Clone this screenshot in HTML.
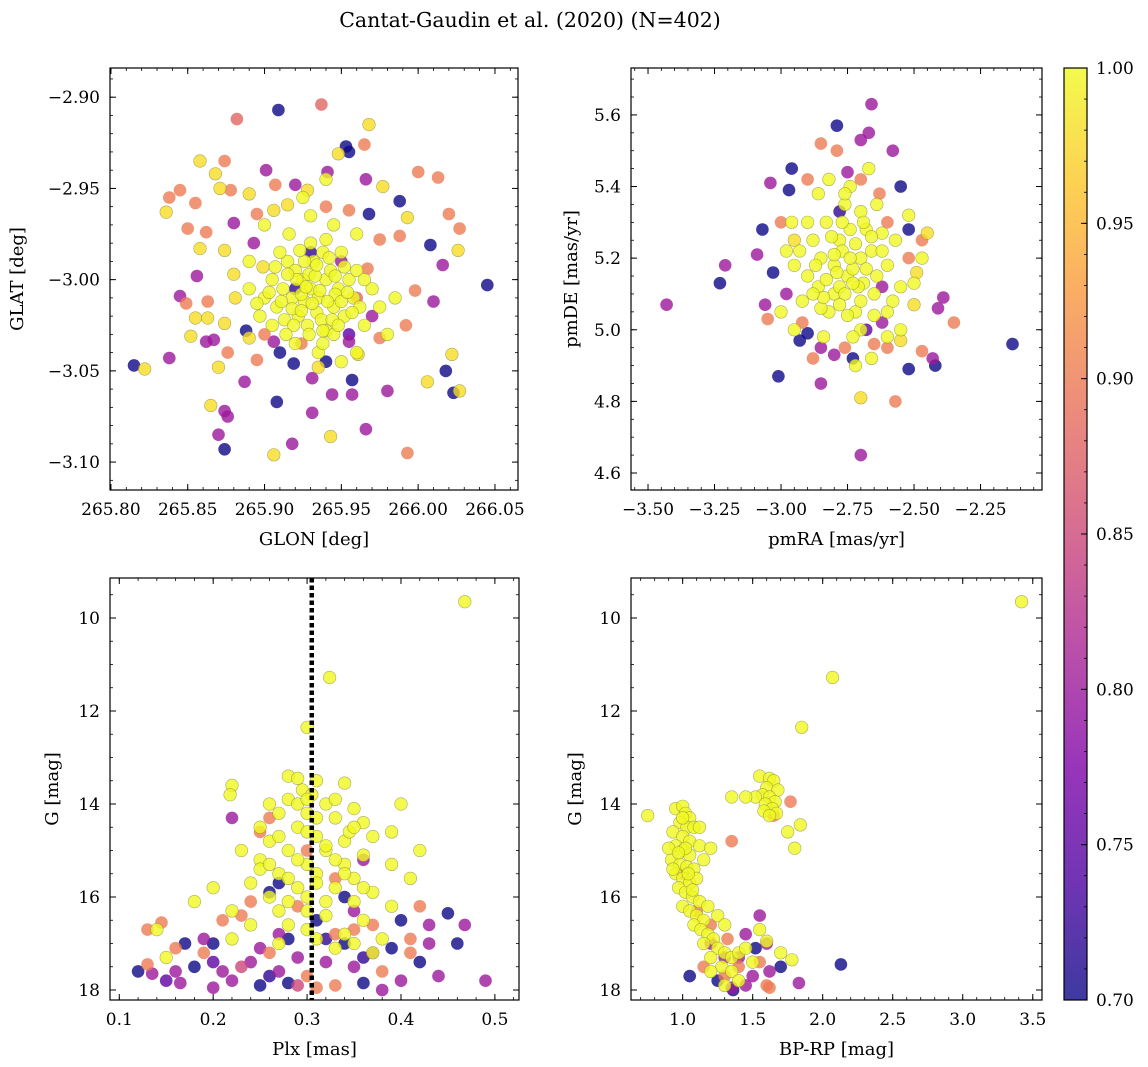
<!DOCTYPE html>
<html><head><meta charset="utf-8">
<style>
html,body{margin:0;padding:0;background:#fff;}
svg{display:block;font-family:"DejaVu Serif","Liberation Serif",serif;}
</style></head>
<body>
<svg id="fig" width="1148" height="1067" viewBox="0 0 1148 1067" xmlns="http://www.w3.org/2000/svg">
<text x="530" y="27" font-size="20.5" text-anchor="middle">Cantat-Gaudin et al. (2020) (N=402)</text>
<defs>
<linearGradient id="plasma" x1="0" y1="1" x2="0" y2="0">
<stop offset="0" stop-color="#0d0887"/><stop offset="0.125" stop-color="#4c02a1"/><stop offset="0.25" stop-color="#7e03a8"/><stop offset="0.375" stop-color="#a92395"/><stop offset="0.5" stop-color="#cc4778"/><stop offset="0.625" stop-color="#e66c5c"/><stop offset="0.75" stop-color="#f89540"/><stop offset="0.875" stop-color="#fdc527"/><stop offset="1" stop-color="#f0f921"/>
</linearGradient>
</defs>
<g id="layer"></g>
</svg>
<script>
// Panel 1: GLON, GLAT, membership probability
const skyPoints = [
[265.909,-2.907,0.7],[265.937,-2.904,0.88],[265.882,-2.912,0.88],[265.968,-2.915,0.98],[265.965,-2.926,0.9],[265.953,-2.927,0.7],[265.955,-2.93,0.7],[265.948,-2.931,0.98],[265.858,-2.935,0.98],[265.874,-2.935,0.9],[265.901,-2.940,0.8],[265.868,-2.942,0.98],[265.941,-2.941,0.8],[265.845,-2.951,0.9],[265.838,-2.955,0.9],[265.871,-2.950,0.98],[265.878,-2.951,0.9],[265.89,-2.953,0.98],[265.907,-2.948,0.9],[265.92,-2.948,0.8],[265.928,-2.951,0.98],[265.966,-2.945,0.8],[265.977,-2.949,0.98],[266.0,-2.941,0.9],[266.013,-2.944,0.9],[265.988,-2.957,0.7],[265.836,-2.963,0.98],[265.855,-2.958,0.9],[265.85,-2.972,0.9],[265.862,-2.974,0.9],[265.88,-2.969,0.8],[265.895,-2.964,0.9],[265.906,-2.962,0.98],[265.915,-2.959,0.98],[265.94,-2.96,0.9],[265.955,-2.962,0.9],[265.968,-2.964,0.7],[265.993,-2.966,0.98],[266.02,-2.964,0.9],[266.027,-2.972,0.9],[265.975,-2.978,0.9],[265.988,-2.976,0.9],[266.008,-2.981,0.7],[266.026,-2.984,0.98],[265.858,-2.983,0.98],[265.874,-2.984,0.98],[265.893,-2.980,0.8],[265.856,-2.998,0.8],[265.88,-2.997,0.98],[265.899,-2.993,0.98],[265.967,-2.994,0.9],[265.95,-2.990,0.8],[266.016,-2.992,0.8],[266.045,-3.003,0.7],[265.845,-3.009,0.8],[265.849,-3.013,0.9],[265.863,-3.012,0.9],[265.881,-3.01,0.98],[265.998,-3.006,0.9],[266.01,-3.012,0.8],[265.855,-3.021,0.98],[265.863,-3.021,0.98],[265.874,-3.024,0.98],[265.852,-3.031,0.98],[265.862,-3.034,0.8],[265.867,-3.033,0.8],[265.888,-3.028,0.7],[265.89,-3.032,0.98],[265.876,-3.040,0.9],[265.906,-3.034,0.8],[265.924,-3.035,0.9],[265.955,-3.034,0.8],[265.975,-3.032,0.9],[265.992,-3.025,0.9],[265.838,-3.043,0.8],[265.815,-3.047,0.7],[265.822,-3.049,0.98],[265.87,-3.048,0.98],[265.895,-3.044,0.9],[265.919,-3.046,0.7],[265.935,-3.048,0.98],[265.961,-3.041,0.98],[266.022,-3.041,0.98],[266.018,-3.05,0.7],[266.006,-3.056,0.98],[265.887,-3.056,0.8],[265.931,-3.054,0.8],[265.957,-3.055,0.7],[265.957,-3.063,0.8],[265.944,-3.063,0.8],[265.98,-3.061,0.8],[266.023,-3.062,0.7],[266.027,-3.061,0.98],[265.865,-3.069,0.98],[265.874,-3.072,0.8],[265.908,-3.067,0.7],[265.931,-3.073,0.8],[265.876,-3.075,0.8],[265.87,-3.085,0.8],[265.966,-3.082,0.8],[265.943,-3.086,0.98],[265.874,-3.093,0.7],[265.918,-3.090,0.8],[265.906,-3.096,0.98],[265.993,-3.095,0.9],
[265.91,-3.04,0.7],[265.955,-3.03,0.75],[265.97,-3.02,0.8],[265.92,-3.005,0.72],[265.94,-3.045,0.7],[265.93,-2.985,0.72],[265.9,-3.03,0.9],[265.96,-3.01,0.88],
[265.915,-2.99,1],[265.92,-2.995,1],[265.925,-3.0,1],[265.93,-3.005,1],[265.935,-3.01,1],[265.94,-3.0,1],[265.945,-3.015,1],[265.918,-3.01,1],[265.922,-3.02,1],[265.928,-3.025,1],[265.932,-2.99,1],[265.938,-2.985,1],[265.943,-2.995,1],[265.948,-3.005,1],[265.952,-3.02,1],[265.912,-3.005,1],[265.908,-3.015,1],[265.905,-3.0,1],[265.926,-3.012,1],[265.934,-3.018,1],[265.94,-3.028,1],[265.955,-3.0,1],[265.958,-3.01,1],[265.962,-3.015,1],[265.9,-3.01,1],[265.897,-3.02,1],[265.91,-2.985,1],[265.916,-2.975,1],[265.93,-2.98,1],[265.95,-2.985,1],[265.965,-3.025,1],[265.97,-3.005,1],[265.975,-3.015,1],[265.92,-3.035,1],[265.935,-3.04,1],[265.945,-3.03,1],[265.95,-3.045,1],[265.905,-3.025,1],[265.93,-2.965,1],[265.945,-2.97,1],[265.96,-2.975,1],[265.925,-2.955,1],[265.94,-2.945,1],[265.9,-2.97,1],[265.89,-2.99,1],[265.96,-3.04,1],[265.98,-3.03,1],[265.924,-3.008,1],[265.937,-3.022,1],[265.929,-2.997,1],[265.946,-3.008,1],[265.913,-3.022,1],[265.952,-2.993,1],[265.985,-3.01,1],[265.89,-3.005,1],[265.938,-3.035,1],
[265.921,-3.0,1],[265.927,-3.004,1],[265.933,-2.998,1],[265.936,-3.006,1],[265.918,-3.016,1],[265.924,-3.017,1],[265.931,-3.013,1],[265.941,-3.012,1],[265.944,-3.022,1],[265.95,-3.012,1],[265.915,-2.997,1],[265.911,-3.012,1],[265.929,-3.03,1],[265.934,-2.992,1],[265.942,-2.988,1],[265.946,-2.998,1],[265.954,-3.007,1],[265.903,-3.007,1],[265.926,-2.99,1],[265.938,-3.028,1],[265.919,-3.025,1],[265.948,-3.025,1],[265.957,-3.018,1],[265.907,-2.993,1],[265.923,-2.984,1],[265.94,-2.978,1],[265.96,-2.995,1],[265.965,-3.0,1],[265.895,-3.013,1],[265.914,-3.03,1]
];
// Panel 2: pmRA, pmDE, probability
const pmPoints = [
[-3.43,5.07,0.8],[-3.23,5.13,0.7],[-3.21,5.18,0.8],[-2.13,4.96,0.7],[-2.35,5.02,0.9],[-2.39,5.09,0.8],[-2.41,5.06,0.8],[-2.43,4.92,0.8],[-2.42,4.9,0.7],[-2.7,4.65,0.8],[-2.7,4.81,0.98],[-2.57,4.8,0.9],[-2.85,4.85,0.8],[-3.01,4.87,0.7],[-2.79,5.57,0.7],[-2.66,5.63,0.8],[-2.67,5.55,0.8],[-2.7,5.53,0.8],[-2.79,5.5,0.9],[-2.85,5.52,0.9],[-2.58,5.5,0.8],[-2.96,5.45,0.7],[-3.04,5.41,0.8],[-2.97,5.39,0.7],[-3.07,5.28,0.7],[-3.09,5.21,0.8],[-3.03,5.16,0.7],[-3.06,5.07,0.8],[-3.05,5.03,0.9],[-2.93,4.97,0.7],[-2.9,4.99,0.7],[-2.52,5.28,0.7],[-2.45,5.27,0.98],[-2.47,5.25,0.9],[-2.55,5.4,0.7],[-2.52,5.2,0.9],[-2.49,5.16,0.98],[-2.5,5.07,0.98],[-2.55,4.97,0.98],[-2.6,4.95,0.9],[-2.47,4.94,0.9],[-2.52,4.89,0.7],[-2.6,5.3,0.9],[-2.63,5.38,0.9],[-2.7,5.42,0.9],[-2.75,5.44,0.8],[-2.9,5.42,0.9],[-3.0,5.3,0.9],[-2.95,5.25,0.98],[-2.62,5.02,0.8],[-2.73,4.92,0.7],[-2.8,4.93,0.8],[-2.85,4.95,0.8],[-2.88,4.92,0.9],[-2.76,4.95,0.9],[-2.65,4.96,0.9],[-2.62,5.12,0.8],[-2.98,5.1,0.8],[-2.92,5.02,0.9],[-2.68,5.0,0.75],[-2.78,5.33,0.72],
[-2.75,5.15,1],[-2.8,5.1,1],[-2.7,5.2,1],[-2.85,5.2,1],[-2.65,5.1,1],[-2.78,5.25,1],[-2.72,5.05,1],[-2.9,5.15,1],[-2.6,5.18,1],[-2.83,5.3,1],[-2.68,5.28,1],[-2.76,5.35,1],[-2.64,5.35,1],[-2.88,5.25,1],[-2.95,5.18,1],[-2.92,5.08,1],[-2.82,5.05,1],[-2.7,5.0,1],[-2.6,5.05,1],[-2.55,5.12,1],[-2.57,5.25,1],[-2.74,5.4,1],[-2.86,5.38,1],[-2.96,5.3,1],[-2.98,5.22,1],[-2.84,4.98,1],[-2.66,4.92,1],[-2.72,4.9,1],[-2.55,5.0,1],[-2.5,5.13,1],[-2.78,5.12,1],[-2.73,5.17,1],[-2.69,5.13,1],[-2.8,5.18,1],[-2.77,5.22,1],[-2.66,5.22,1],[-2.86,5.12,1],[-2.74,5.28,1],[-2.62,5.27,1],[-2.9,5.3,1],[-3.0,5.05,1],[-2.95,5.0,1],[-2.6,4.98,1],[-2.47,5.2,1],[-2.52,5.32,1],[-2.7,5.33,1],[-2.82,5.42,1],[-2.67,5.45,1],[-2.73,4.98,1],[-2.85,5.06,1],
[-2.76,5.1,1],[-2.71,5.12,1],[-2.74,5.2,1],[-2.79,5.16,1],[-2.83,5.14,1],[-2.68,5.17,1],[-2.72,5.24,1],[-2.81,5.26,1],[-2.77,5.3,1],[-2.7,5.08,1],[-2.64,5.15,1],[-2.87,5.18,1],[-2.75,5.04,1],[-2.8,5.21,1],[-2.66,5.26,1],[-2.73,5.13,1],[-2.78,5.07,1],[-2.69,5.3,1],[-2.84,5.09,1],[-2.62,5.22,1],[-2.88,5.1,1],[-2.93,5.22,1],[-2.58,5.08,1],[-2.76,5.38,1],[-2.65,5.04,1]
];
// Panel 3: parallax, G magnitude, probability
const plxPoints = [
[0.12,17.6,0.7],[0.13,17.45,0.9],[0.135,17.65,0.8],[0.13,16.7,0.9],[0.145,16.55,0.9],[0.16,17.6,0.8],[0.165,17.85,0.8],[0.17,17.0,0.7],[0.18,17.5,0.7],[0.19,17.2,0.9],[0.2,17.0,0.7],[0.21,17.6,0.8],[0.2,17.95,0.8],[0.22,17.8,0.8],[0.23,16.4,0.9],[0.24,17.4,0.8],[0.25,17.9,0.7],[0.26,17.2,0.9],[0.27,17.6,0.8],[0.28,17.85,0.7],[0.29,17.3,0.8],[0.3,17.7,0.9],[0.31,16.5,0.7],[0.32,17.4,0.8],[0.33,17.9,0.9],[0.34,17.0,0.7],[0.35,17.5,0.8],[0.36,17.85,0.7],[0.37,17.2,0.8],[0.38,17.6,0.9],[0.39,17.1,0.7],[0.4,17.8,0.8],[0.41,16.9,0.9],[0.42,17.4,0.7],[0.43,17.0,0.8],[0.44,17.7,0.8],[0.45,16.35,0.7],[0.46,17.0,0.7],[0.468,16.6,0.8],[0.49,17.8,0.8],[0.42,16.2,0.9],[0.4,16.5,0.7],[0.35,16.3,0.8],[0.27,15.7,0.7],[0.22,14.3,0.8],[0.26,15.9,0.7],[0.33,16.8,0.9],[0.29,16.2,0.9],[0.37,16.6,0.9],[0.24,16.1,0.9],[0.21,16.5,0.9],[0.19,16.9,0.8],[0.28,16.9,0.7],[0.31,17.95,0.9],[0.38,18.0,0.8],[0.25,17.1,0.8],[0.16,17.1,0.9],[0.43,16.6,0.8],[0.36,15.2,0.8],[0.3,15.0,0.9],[0.34,16.0,0.7],[0.26,14.3,0.9],[0.25,14.6,0.9],[0.33,15.6,0.9],
[0.23,17.5,0.85],[0.27,16.8,0.8],[0.32,16.9,0.72],[0.36,17.3,0.72],[0.2,17.4,0.75],[0.29,17.9,0.85],[0.35,16.7,0.9],[0.41,17.2,0.9],[0.15,17.8,0.75],[0.26,17.7,0.72],
[0.468,9.65,1],[0.324,11.28,1],[0.3,12.35,1],[0.22,13.6,1],[0.218,13.8,1],[0.28,13.4,1],[0.29,13.45,1],[0.31,13.5,1],[0.34,13.55,1],[0.295,13.7,1],[0.305,13.8,1],[0.28,13.9,1],[0.26,14.0,1],[0.32,14.0,1],[0.35,14.1,1],[0.27,14.2,1],[0.3,14.2,1],[0.33,14.3,1],[0.36,14.4,1],[0.25,14.5,1],[0.29,14.5,1],[0.39,14.6,1],[0.26,14.8,1],[0.31,14.7,1],[0.34,14.8,1],[0.37,14.7,1],[0.28,15.0,1],[0.23,15.0,1],[0.32,15.0,1],[0.36,15.1,1],[0.42,15.0,1],[0.25,15.2,1],[0.3,15.3,1],[0.34,15.3,1],[0.39,15.3,1],[0.27,15.5,1],[0.31,15.5,1],[0.35,15.6,1],[0.2,15.8,1],[0.24,15.7,1],[0.29,15.8,1],[0.33,15.8,1],[0.37,15.9,1],[0.41,15.6,1],[0.26,16.0,1],[0.3,16.0,1],[0.35,16.1,1],[0.39,16.2,1],[0.18,16.1,1],[0.22,16.3,1],[0.27,16.3,1],[0.32,16.4,1],[0.36,16.5,1],[0.24,16.6,1],[0.3,16.7,1],[0.34,16.8,1],[0.38,16.9,1],[0.22,16.9,1],[0.27,17.0,1],[0.33,17.1,1],[0.37,17.2,1],[0.15,17.3,1],[0.14,16.7,1],[0.25,15.4,1],[0.28,16.6,1],[0.4,14.0,1],[0.345,14.6,1],
[0.29,14.0,1],[0.31,14.3,1],[0.3,14.6,1],[0.32,14.9,1],[0.29,15.2,1],[0.31,15.7,1],[0.33,15.2,1],[0.28,15.6,1],[0.3,16.3,1],[0.32,16.1,1],[0.34,15.5,1],[0.27,14.7,1],[0.35,14.5,1],[0.33,13.9,1],[0.3,13.9,1],[0.28,16.1,1],[0.36,15.8,1],[0.26,15.3,1],[0.31,16.9,1],[0.35,17.0,1]
];
// Panel 4: BP-RP colour, G magnitude, probability
const cmdPoints = [
[1.05,17.7,0.7],[2.13,17.45,0.7],[1.83,17.85,0.8],[1.77,13.95,0.9],[1.35,14.8,0.9],[1.65,14.25,0.9],[1.2,17.0,0.8],[1.3,17.3,0.8],[1.4,17.5,0.9],[1.5,17.7,0.8],[1.6,17.9,0.9],[1.35,17.95,0.8],[1.25,17.8,0.7],[1.45,17.9,0.8],[1.55,17.4,0.9],[1.62,17.6,0.8],[1.7,17.5,0.7],[1.3,17.7,0.9],[1.4,17.3,0.8],[1.52,17.1,0.7],[1.6,17.0,0.8],[1.15,17.5,0.9],[1.32,16.9,0.9],[1.45,16.8,0.8],[1.55,16.4,0.8],[1.1,16.3,0.9],[1.2,16.6,0.9],[1.0,15.5,0.9],[1.62,17.95,0.9],[1.36,18.0,0.7],
[3.42,9.65,1],[2.07,11.28,1],[1.85,12.35,1],[0.75,14.25,1],[1.55,13.4,1],[1.62,13.45,1],[1.65,13.5,1],[1.6,13.65,1],[1.68,13.7,1],[1.57,13.8,1],[1.62,13.85,1],[1.52,13.85,1],[1.66,13.95,1],[1.59,14.0,1],[1.64,14.1,1],[1.58,14.15,1],[1.67,14.2,1],[1.62,14.25,1],[1.84,14.45,1],[1.75,14.6,1],[1.8,14.95,1],[1.35,13.85,1],[1.45,13.85,1],
[0.95,14.1,1],[1.0,14.05,1],[1.02,14.2,1],[1.05,14.3,1],[0.98,14.4,1],[1.03,14.5,1],[1.08,14.5,1],[0.93,14.6,1],[1.0,14.7,1],[1.05,14.8,1],[1.12,14.9,1],[0.95,14.9,1],[1.0,15.0,1],[1.05,15.1,1],[0.92,15.2,1],[0.98,15.3,1],[1.03,15.35,1],[1.08,15.4,1],[1.2,14.95,1],[0.95,15.5,1],[1.0,15.6,1],[1.05,15.7,1],[1.1,15.6,1],[0.97,15.8,1],[1.02,15.9,1],[1.07,16.0,1],[1.12,16.1,1],[1.0,16.2,1],[1.05,16.3,1],[1.1,16.4,1],[1.15,16.5,1],[1.08,16.6,1],[1.13,16.7,1],[1.18,16.8,1],[1.22,16.9,1],[1.15,17.0,1],[1.25,17.1,1],[1.3,17.2,1],[1.2,17.3,1],[1.35,17.3,1],[1.4,17.2,1],[1.28,17.5,1],[1.45,17.1,1],[1.55,16.7,1],[1.6,16.95,1],[1.7,17.2,1],[1.78,17.35,1],[1.5,17.4,1],[1.35,17.6,1],[1.2,17.6,1],[1.4,17.8,1],[1.3,17.9,1],[1.25,16.4,1],[1.18,16.2,1],[1.3,16.6,1],[1.02,14.95,1],[0.9,14.95,1],[0.93,15.4,1],[1.15,15.2,1],[1.12,14.5,1],[0.97,15.05,1],[1.04,15.5,1],[1.0,14.3,1],[1.07,15.85,1]
];
const skyXTicks = ["265.80","265.85","265.90","265.95","266.00","266.05"];
const skyYTicks = ["-2.90","-2.95","-3.00","-3.05","-3.10"];
const pmXTicks = ["-3.50","-3.25","-3.00","-2.75","-2.50","-2.25"];
const pmYTicks = ["4.6","4.8","5.0","5.2","5.4","5.6"];
const plxXTicks = ["0.1","0.2","0.3","0.4","0.5"];
const gYTicks = ["10","12","14","16","18"];
const cmdXTicks = ["1.0","1.5","2.0","2.5","3.0","3.5"];
const cbarTicks = ["0.70","0.75","0.80","0.85","0.90","0.95","1.00"];
const plxLine = [0.305];

const NS="http://www.w3.org/2000/svg";
const layer=document.getElementById('layer');
function mk(tag,attrs,parent){const e=document.createElementNS(NS,tag);for(const k in attrs)e.setAttribute(k,attrs[k]);(parent||layer).appendChild(e);return e;}
const stops=[[0,13,8,135],[0.125,76,2,161],[0.25,126,3,168],[0.375,169,35,149],[0.5,204,71,120],[0.625,230,108,92],[0.75,248,149,64],[0.875,253,197,39],[1,240,249,33]];
function plasma(p){let t=Math.max(0,Math.min(1,(p-0.7)/0.3));for(let i=1;i<stops.length;i++){if(t<=stops[i][0]){const a=stops[i-1],b=stops[i],f=(t-a[0])/(b[0]-a[0]);return `rgb(${Math.round(a[1]+f*(b[1]-a[1]))},${Math.round(a[2]+f*(b[2]-a[2]))},${Math.round(a[3]+f*(b[3]-a[3]))})`;}}return 'rgb(240,249,33)';}
function fmt(s){return s.replace('-','\u2212');}
const TICKFS=17, LABFS=18;

function panel(cfg){
  const {name,L,T,R,B,xmin,xmax,ymin,ymax,xticks,yticks,xminor,yminor,xlabel,ylabel,ylabX,pts}=cfg;
  const g=mk('g',{});
  
  
  const sx=v=>L+(v-xmin)/(xmax-xmin)*(R-L);
  const sy=v=>T+(v-ymax)/(ymin-ymax)*(B-T);
  const clip=mk('clipPath',{id:name+'-clip'},g);mk('rect',{x:L,y:T,width:R-L,height:B-T},clip);
  const pg=mk('g',{'clip-path':`url(#${name}-clip)`},g);
  const sorted=pts.slice().sort((a,b)=>a[2]-b[2]);
  sorted.forEach(d=>{
    const c=mk('circle',{cx:sx(d[0]).toFixed(1),cy:sy(d[1]).toFixed(1),r:6.3,fill:plasma(d[2]),'fill-opacity':0.8,stroke:d[2]>0.97?'#8a8a40':'none','stroke-width':0.6,'stroke-opacity':0.7},pg);
    
    
  });
  if(cfg.vline){cfg.vline.forEach(v=>{const l=mk('line',{x1:sx(v),x2:sx(v),y1:T,y2:B,stroke:'#000','stroke-width':4.5,'stroke-dasharray':'4.5,3'},pg);
    
    });}
  const fr=mk('rect',{x:L,y:T,width:R-L,height:B-T,fill:'none',stroke:'#000','stroke-width':1.2},g);
  
  
  const lo=Math.min(xmin,xmax),hi=Math.max(xmin,xmax);
  for(let v=Math.ceil(lo/xminor-1e-6)*xminor; v<=hi+1e-9; v+=xminor){const x=sx(v);mk('line',{x1:x,x2:x,y1:B,y2:B-3,stroke:'#000','stroke-width':0.8},g);mk('line',{x1:x,x2:x,y1:T,y2:T+3,stroke:'#000','stroke-width':0.8},g);}
  const ylo=Math.min(ymin,ymax),yhi=Math.max(ymin,ymax);
  for(let v=Math.ceil(ylo/yminor-1e-6)*yminor; v<=yhi+1e-9; v+=yminor){const y=sy(v);mk('line',{x1:L,x2:L+3,y1:y,y2:y,stroke:'#000','stroke-width':0.8},g);mk('line',{x1:R,x2:R-3,y1:y,y2:y,stroke:'#000','stroke-width':0.8},g);}
  xticks.forEach(s=>{const x=sx(parseFloat(s));mk('line',{x1:x,x2:x,y1:B,y2:B-6,stroke:'#000','stroke-width':1},g);mk('line',{x1:x,x2:x,y1:T,y2:T+6,stroke:'#000','stroke-width':1},g);
    const t=mk('text',{x:x,y:B+25,'font-size':TICKFS,'text-anchor':'middle'},g);t.textContent=fmt(s);
    
    });
  yticks.forEach(s=>{const y=sy(parseFloat(s));mk('line',{x1:L,x2:L+6,y1:y,y2:y,stroke:'#000','stroke-width':1},g);mk('line',{x1:R,x2:R-6,y1:y,y2:y,stroke:'#000','stroke-width':1},g);
    const t=mk('text',{x:L-10,y:y+6,'font-size':TICKFS,'text-anchor':'end'},g);t.textContent=fmt(s);
    
    });
  const xl=mk('text',{x:(L+R)/2,y:B+55,'font-size':LABFS,'text-anchor':'middle'},g);xl.textContent=xlabel;
  
  
  const yc=(T+B)/2;
  const yl=mk('text',{x:ylabX,y:yc,'font-size':LABFS,'text-anchor':'middle',transform:`rotate(-90 ${ylabX} ${yc})`},g);yl.textContent=ylabel;
  
  
}
panel({name:'sky-panel',L:110,T:68,R:518,B:490,xmin:265.7994,xmax:266.065,ymin:-3.1153,ymax:-2.884,xticks:skyXTicks,yticks:skyYTicks,xminor:0.01,yminor:0.01,xlabel:'GLON [deg]',ylabel:'GLAT [deg]',ylabX:23,pts:skyPoints});
panel({name:'pm-panel',L:631,T:68,R:1042,B:490,xmin:-3.564,xmax:-2.019,ymin:4.5525,ymax:5.731,xticks:pmXTicks,yticks:pmYTicks,xminor:0.05,yminor:0.05,xlabel:'pmRA [mas/yr]',ylabel:'pmDE [mas/yr]',ylabX:577,pts:pmPoints});
panel({name:'plx-panel',L:110,T:578,R:519,B:1000,xmin:0.0901,xmax:0.5257,ymin:18.215,ymax:9.14,xticks:plxXTicks,yticks:gYTicks,xminor:0.02,yminor:0.5,xlabel:'Plx [mas]',ylabel:'G [mag]',ylabX:58,pts:plxPoints,vline:plxLine});
panel({name:'cmd-panel',L:631,T:578,R:1042,B:1000,xmin:0.631,xmax:3.566,ymin:18.215,ymax:9.14,xticks:cmdXTicks,yticks:gYTicks,xminor:0.1,yminor:0.5,xlabel:'BP-RP [mag]',ylabel:'G [mag]',ylabX:581,pts:cmdPoints});

const cb=mk('g',{});


const cT=68,cB=1000,cL=1064,cR=1087;
mk('rect',{x:cL,y:cT,width:cR-cL,height:cB-cT,fill:'url(#plasma)','fill-opacity':0.8},cb);
mk('rect',{x:cL,y:cT,width:cR-cL,height:cB-cT,fill:'none',stroke:'#000','stroke-width':1.2},cb);
const cy=v=>cB-(v-0.7)/0.3*(cB-cT);
for(let v=0.70;v<=1.0001;v+=0.01){mk('line',{x1:cR,x2:cR-3,y1:cy(v),y2:cy(v),stroke:'#000','stroke-width':0.8},cb);}
cbarTicks.forEach(s=>{const y=cy(parseFloat(s));mk('line',{x1:cR,x2:cR-6,y1:y,y2:y,stroke:'#000','stroke-width':1},cb);
  const t=mk('text',{x:cR+9,y:y+6,'font-size':TICKFS},cb);t.textContent=s;
  
  });
</script>
</body></html>
